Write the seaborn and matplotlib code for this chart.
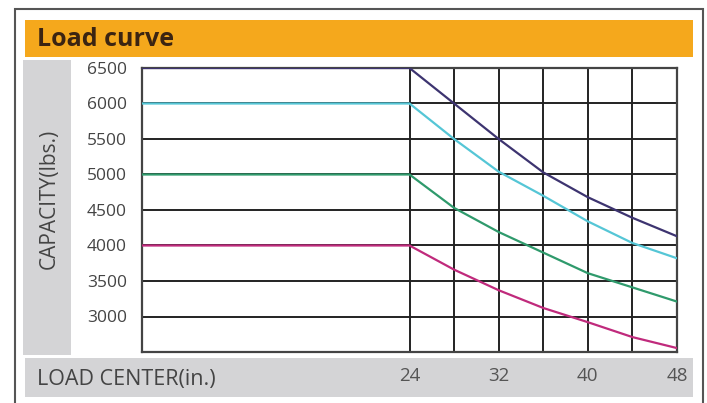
import numpy as np
import pandas as pd
import matplotlib.pyplot as plt
import seaborn as sns
from matplotlib.patches import Rectangle

# load centre (in.) and capacity (lbs.) for each rated load
load_center = [0, 24, 28, 32, 36, 40, 44, 48]
cap_6500 = [6500, 6500, 6000, 5500, 5030, 4680, 4390, 4130]
cap_6000 = [6000, 6000, 5500, 5040, 4700, 4340, 4035, 3820]
cap_5000 = [5000, 5000, 4530, 4190, 3900, 3610, 3410, 3210]
cap_4000 = [4000, 4000, 3660, 3370, 3120, 2920, 2710, 2555]
y_ticks = [3000, 3500, 4000, 4500, 5000, 5500, 6000, 6500]
x_grid = [24, 28, 32, 36, 40, 44, 48]
x_labels = ['24', '', '32', '', '40', '', '48']

df = pd.DataFrame({
    'x': load_center * 4,
    'cap': cap_6500 + cap_6000 + cap_5000 + cap_4000,
    'series': ['6500'] * 8 + ['6000'] * 8 + ['5000'] * 8 + ['4000'] * 8,
})
colors = {'6500': '#3d3470', '6000': '#55c6d6', '5000': '#2f9a6c', '4000': '#c02a7c'}

sns.set_style('white')
plt.rcParams['font.family'] = ['Open Sans', 'DejaVu Sans']

W, H = 707, 403
fig = plt.figure(figsize=(W / 100, H / 100), dpi=100)


def box(x, y, w, h, **kw):
    fig.patches.append(Rectangle((x / W, 1 - (y + h) / H), w / W, h / H,
                                 transform=fig.transFigure, zorder=-10, **kw))


box(15, 9, 688, 410, facecolor='white', edgecolor='#555555', lw=1.5)
box(25, 20, 668, 37, facecolor='#f5a81c', edgecolor='none')
box(23, 60, 48, 295, facecolor='#d4d4d6', edgecolor='none')
box(25, 358, 668, 39, facecolor='#d4d4d6', edgecolor='none')

ax = fig.add_axes([142 / W, 1 - 352 / H, 535 / W, 284 / H])
ax.set_zorder(2)
sns.lineplot(data=df, x='x', y='cap', hue='series', palette=colors,
             linewidth=1.6, legend=False, ax=ax, zorder=3)

ax.set_xlim(0, 48)
ax.set_ylim(2500, 6500)
ax.set_xticks(x_grid)
ax.set_xticklabels(x_labels)
ax.set_yticks(y_ticks)
ax.grid(True, color='#222222', lw=1.4)
ax.tick_params(axis='x', length=0, pad=11, labelsize=13.5, labelcolor='#555555')
ax.tick_params(axis='y', length=0, pad=11, labelsize=12.5, labelcolor='#444444')
for s in ax.spines.values():
    s.set_color('#444444')
    s.set_linewidth(1.6)
ax.set_xlabel('')
ax.set_ylabel('')

fig.text(37 / W, 1 - 39 / H, 'Load curve', fontsize=18, fontweight='bold',
         color='#3b2412', va='center', ha='left')
fig.text(37 / W, 1 - 380 / H, 'LOAD CENTER(in.)', fontsize=15.5,
         color='#444444', va='center', ha='left')
fig.text(49 / W, 1 - 199 / H, 'CAPACITY(lbs.)', fontsize=15, rotation=90,
         color='#444444', va='center', ha='center')

fig.savefig('out.png', dpi=100)
